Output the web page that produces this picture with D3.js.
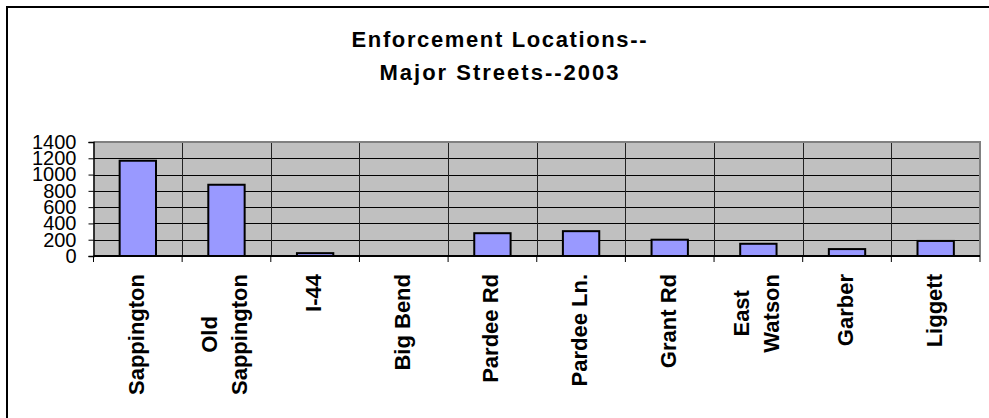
<!DOCTYPE html>
<html>
<head>
<meta charset="utf-8">
<script src="https://cdn.jsdelivr.net/npm/d3@7"></script>
<style>
  html, body { margin: 0; padding: 0; background: #fff; }
  svg { display: block; }
  text { font-family: "Liberation Sans", Arial, sans-serif; fill: #000; }
</style>
</head>
<body>
<svg id="chart" width="989" height="418"></svg>
<script>
// Enforcement counts by street, 2003
const categories = [
  ["Sappington"], ["Old", "Sappington"], ["I-44"], ["Big Bend"], ["Pardee Rd"],
  ["Pardee Ln."], ["Grant Rd"], ["East", "Watson"], ["Garber"], ["Liggett"]
];
const values = [1170, 875, 35, 0, 280, 305, 200, 150, 85, 185];
const yTicks = [0, 200, 400, 600, 800, 1000, 1200, 1400];
const titleLines = ["Enforcement Locations--", "Major Streets--2003"];

const svg = d3.select("#chart");
const plot = { left: 93.5, right: 980, top: 142, bottom: 256 };

// chart frame (runs past the right and bottom edges)
svg.append("rect")
  .attr("x", 7).attr("y", 7).attr("width", 1100).attr("height", 600)
  .attr("fill", "#fff").attr("stroke", "#000").attr("stroke-width", 2);

// title
const titleW = [295, 239];
svg.append("g").selectAll("text").data(titleLines).join("text")
  .attr("x", 499)
  .attr("y", (d, i) => 47 + i * 33)
  .attr("text-anchor", "middle")
  .attr("font-size", 22).attr("font-weight", "bold")
  .attr("textLength", (d, i) => titleW[i])
  .attr("lengthAdjust", "spacing")
  .text(d => d);

const x = d3.scaleBand()
  .domain(d3.range(categories.length))
  .range([plot.left, plot.right])
  .paddingInner(0.59).paddingOuter(0.295);
const step = x.step();

const y = d3.scaleLinear().domain([0, 1400]).range([plot.bottom, plot.top]);

// plot background
svg.append("rect")
  .attr("x", plot.left).attr("y", plot.top)
  .attr("width", plot.right - plot.left).attr("height", plot.bottom - plot.top)
  .attr("fill", "#c0c0c0");

// horizontal gridlines
svg.append("g").selectAll("line").data(yTicks.filter(t => t > 0 && t < 1400)).join("line")
  .attr("x1", plot.left).attr("x2", plot.right)
  .attr("y1", d => Math.round(y(d)) + 0.5).attr("y2", d => Math.round(y(d)) + 0.5)
  .attr("stroke", "#000").attr("stroke-width", 1);

// vertical gridlines at category boundaries
const bounds = d3.range(1, categories.length).map(i => plot.left + i * step);
svg.append("g").selectAll("line").data(bounds).join("line")
  .attr("x1", d => Math.round(d) + 0.5).attr("x2", d => Math.round(d) + 0.5)
  .attr("y1", plot.top).attr("y2", plot.bottom)
  .attr("stroke", "#222").attr("stroke-width", 1);

// plot border top and right
svg.append("path")
  .attr("d", `M${plot.left},${plot.top}H${plot.right}V${plot.bottom}`)
  .attr("fill", "none").attr("stroke", "#808080").attr("stroke-width", 2);

// bars
svg.append("g").selectAll("rect").data(values).join("rect")
  .attr("x", (d, i) => x(i))
  .attr("width", x.bandwidth())
  .attr("y", d => y(d))
  .attr("height", d => plot.bottom - y(d))
  .attr("fill", "#9999ff")
  .attr("stroke", "#000").attr("stroke-width", d => d > 0 ? 2 : 0);

// y axis
const yAxis = svg.append("g")
  .attr("transform", `translate(${plot.left},0)`)
  .call(d3.axisLeft(y).tickValues(yTicks).tickSize(5).tickPadding(12).tickFormat(d3.format("d")));
yAxis.select(".domain").attr("stroke", "#000").attr("stroke-width", 1.5);
yAxis.selectAll(".tick line").attr("stroke", "#000");
yAxis.selectAll(".tick text")
  .attr("font-size", 20)
  .attr("font-family", "'Liberation Sans', Arial, sans-serif")
  .attr("fill", "#000");

// x axis line with ticks at category boundaries
svg.append("line")
  .attr("x1", plot.left).attr("x2", plot.right)
  .attr("y1", plot.bottom).attr("y2", plot.bottom)
  .attr("stroke", "#000").attr("stroke-width", 2);
svg.append("g").selectAll("line").data([plot.left, ...bounds, plot.right]).join("line")
  .attr("x1", d => d).attr("x2", d => d)
  .attr("y1", plot.bottom).attr("y2", plot.bottom + 6)
  .attr("stroke", "#000").attr("stroke-width", 1);

// rotated category labels, block aligned at the top, lines centred
const labelTop = 274;
const lineGap = 30;
const lab = svg.append("g").selectAll("g").data(categories).join("g");
lab.each(function (lines, i) {
  const g = d3.select(this);
  const cx = x(i) + x.bandwidth() / 2;
  const tmp = g.append("text").attr("font-size", 22).attr("font-weight", "bold");
  let maxLen = 0;
  lines.forEach(l => { tmp.text(l); maxLen = Math.max(maxLen, tmp.node().getComputedTextLength()); });
  tmp.remove();
  const cy = labelTop + maxLen / 2;
  const first = cx + 6 - (lines.length - 1) * lineGap / 2;
  lines.forEach((l, k) => {
    g.append("text")
      .attr("transform", `translate(${first + k * lineGap},${cy}) rotate(-90)`)
      .attr("text-anchor", "middle")
      .attr("font-size", 22).attr("font-weight", "bold")
      .text(l);
  });
});
</script>
</body>
</html>
